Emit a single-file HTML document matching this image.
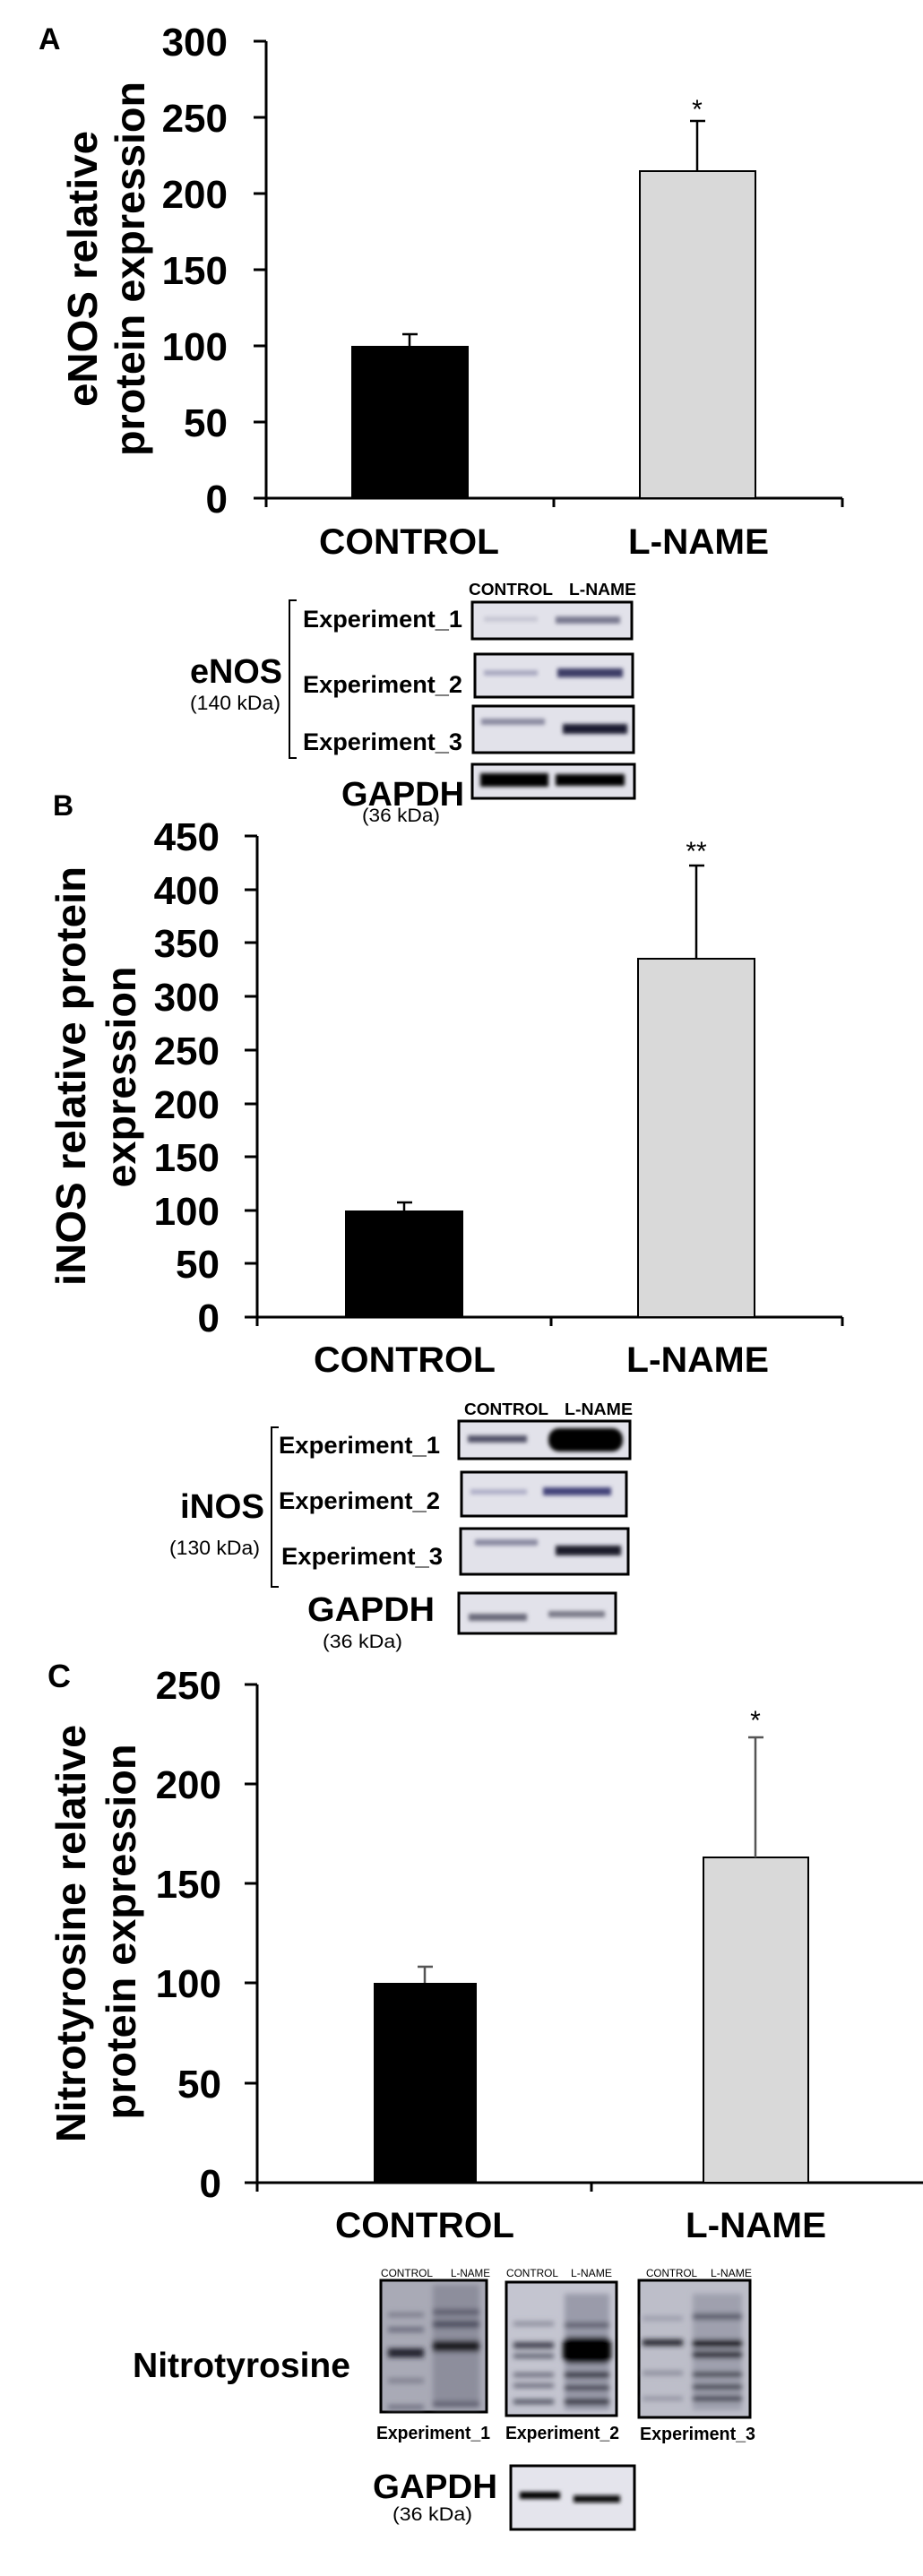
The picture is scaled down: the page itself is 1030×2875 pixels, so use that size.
<!DOCTYPE html>
<html><head><meta charset="utf-8"><style>
html,body{margin:0;padding:0;background:#fff;}
svg{display:block;}
text{font-family:"Liberation Sans",Arial,sans-serif;fill:#000;}
.b{font-weight:bold;}
</style></head><body>
<svg width="1030" height="2875" viewBox="0 0 1030 2875" xmlns="http://www.w3.org/2000/svg">
<defs>
<filter id="bl" x="-20%" y="-100%" width="140%" height="300%"><feGaussianBlur stdDeviation="2"/></filter>
<filter id="bl3" x="-20%" y="-100%" width="140%" height="300%"><feGaussianBlur stdDeviation="3"/></filter>
</defs>

<!-- ================= PANEL A ================= -->
<text x="43" y="55" class="b" font-size="34">A</text>
<g stroke="#000" stroke-width="3" fill="none">
<line x1="297" y1="46" x2="297" y2="566"/>
<line x1="283" y1="556" x2="940" y2="556"/>
<line x1="618" y1="556" x2="618" y2="566"/>
<line x1="940" y1="556" x2="940" y2="566"/>
<line x1="283" y1="46" x2="297" y2="46"/>
<line x1="283" y1="131" x2="297" y2="131"/>
<line x1="283" y1="216" x2="297" y2="216"/>
<line x1="283" y1="301" x2="297" y2="301"/>
<line x1="283" y1="386" x2="297" y2="386"/>
<line x1="283" y1="471" x2="297" y2="471"/>
</g>
<g class="b" font-size="44" text-anchor="end">
<text x="254" y="62">300</text><text x="254" y="147">250</text><text x="254" y="232">200</text>
<text x="254" y="317">150</text><text x="254" y="402">100</text><text x="254" y="487">50</text><text x="254" y="572">0</text>
</g>
<rect x="392" y="386" width="131" height="170" fill="#000"/>
<rect x="714" y="191" width="129" height="365" fill="#d9d9d9" stroke="#000" stroke-width="2"/>
<g stroke="#000" stroke-width="2.5">
<line x1="457" y1="386" x2="457" y2="373"/><line x1="449" y1="373" x2="466" y2="373"/>
<line x1="778" y1="191" x2="778" y2="135"/><line x1="770" y1="135" x2="787" y2="135"/>
</g>
<text x="778" y="132" font-size="30" text-anchor="middle">*</text>
<text transform="translate(108,300) rotate(-90)" class="b" font-size="46" text-anchor="middle" textLength="308" lengthAdjust="spacingAndGlyphs">eNOS relative</text>
<text transform="translate(161,300) rotate(-90)" class="b" font-size="46" text-anchor="middle" textLength="418" lengthAdjust="spacingAndGlyphs">protein expression</text>
<text x="356" y="618" class="b" font-size="40" textLength="201" lengthAdjust="spacingAndGlyphs">CONTROL</text>
<text x="701" y="618" class="b" font-size="40" textLength="157" lengthAdjust="spacingAndGlyphs">L-NAME</text>

<!-- blot A -->
<text x="523" y="664" class="b" font-size="18" textLength="94" lengthAdjust="spacingAndGlyphs">CONTROL</text>
<text x="635" y="664" class="b" font-size="18" textLength="75" lengthAdjust="spacingAndGlyphs">L-NAME</text>
<g stroke="#000" stroke-width="3" fill="#e2e2ea">
<rect x="527" y="672" width="178" height="41"/>
<rect x="530" y="730" width="176" height="48"/>
<rect x="528" y="788" width="179" height="52"/>
<rect x="527" y="853" width="181" height="38"/>
</g>
<g filter="url(#bl)">
<rect x="540" y="688" width="60" height="6" fill="#c8c8d4"/>
<rect x="620" y="688" width="72" height="8" fill="#7a7a90"/>
<rect x="540" y="748" width="60" height="6" fill="#a8a8c0"/>
<rect x="622" y="746" width="73" height="10" fill="#3e3e66"/>
<rect x="537" y="802" width="71" height="7" fill="#8a8aa0"/>
<rect x="628" y="808" width="72" height="11" fill="#1e1e30"/>
<rect x="536" y="863" width="76" height="15" fill="#000"/>
<rect x="620" y="864" width="77" height="13" fill="#000"/>
</g>
<g stroke="#000" stroke-width="2" fill="none"><polyline points="331,670 323,670 323,846 331,846"/></g>
<text x="338" y="700" class="b" font-size="27" textLength="178" lengthAdjust="spacingAndGlyphs">Experiment_1</text>
<text x="338" y="773" class="b" font-size="27" textLength="178" lengthAdjust="spacingAndGlyphs">Experiment_2</text>
<text x="338" y="837" class="b" font-size="27" textLength="178" lengthAdjust="spacingAndGlyphs">Experiment_3</text>
<text x="212" y="762" class="b" font-size="38" textLength="103" lengthAdjust="spacingAndGlyphs">eNOS</text>
<text x="212" y="792" font-size="22" textLength="101" lengthAdjust="spacingAndGlyphs">(140 kDa)</text>
<text x="381" y="899" class="b" font-size="38" textLength="137" lengthAdjust="spacingAndGlyphs">GAPDH</text>
<text x="404" y="917" font-size="21" textLength="87" lengthAdjust="spacingAndGlyphs">(36 kDa)</text>

<!-- ================= PANEL B ================= -->
<text x="59" y="910" class="b" font-size="32">B</text>
<g stroke="#000" stroke-width="3" fill="none">
<line x1="287" y1="933" x2="287" y2="1480"/>
<line x1="273" y1="1470" x2="940" y2="1470"/>
<line x1="615" y1="1470" x2="615" y2="1480"/>
<line x1="940" y1="1470" x2="940" y2="1480"/>
<line x1="273" y1="933" x2="287" y2="933"/>
<line x1="273" y1="993" x2="287" y2="993"/>
<line x1="273" y1="1052" x2="287" y2="1052"/>
<line x1="273" y1="1112" x2="287" y2="1112"/>
<line x1="273" y1="1172" x2="287" y2="1172"/>
<line x1="273" y1="1232" x2="287" y2="1232"/>
<line x1="273" y1="1291" x2="287" y2="1291"/>
<line x1="273" y1="1351" x2="287" y2="1351"/>
<line x1="273" y1="1410" x2="287" y2="1410"/>
</g>
<g class="b" font-size="44" text-anchor="end">
<text x="245" y="949">450</text><text x="245" y="1009">400</text><text x="245" y="1068">350</text>
<text x="245" y="1128">300</text><text x="245" y="1188">250</text><text x="245" y="1248">200</text>
<text x="245" y="1307">150</text><text x="245" y="1367">100</text><text x="245" y="1426">50</text><text x="245" y="1486">0</text>
</g>
<rect x="385" y="1351" width="132" height="119" fill="#000"/>
<rect x="712" y="1070" width="130" height="400" fill="#d9d9d9" stroke="#000" stroke-width="2"/>
<g stroke="#000" stroke-width="2.5">
<line x1="451" y1="1351" x2="451" y2="1342"/><line x1="443" y1="1342" x2="460" y2="1342"/>
<line x1="777" y1="1070" x2="777" y2="966"/><line x1="769" y1="966" x2="786" y2="966"/>
</g>
<text x="777" y="960" font-size="30" text-anchor="middle">**</text>
<text transform="translate(95,1201) rotate(-90)" class="b" font-size="46" text-anchor="middle" textLength="468" lengthAdjust="spacingAndGlyphs">iNOS relative protein</text>
<text transform="translate(151,1202) rotate(-90)" class="b" font-size="46" text-anchor="middle" textLength="247" lengthAdjust="spacingAndGlyphs">expression</text>
<text x="350" y="1531" class="b" font-size="40" textLength="203" lengthAdjust="spacingAndGlyphs">CONTROL</text>
<text x="699" y="1531" class="b" font-size="40" textLength="159" lengthAdjust="spacingAndGlyphs">L-NAME</text>

<!-- blot B -->
<text x="518" y="1579" class="b" font-size="18" textLength="94" lengthAdjust="spacingAndGlyphs">CONTROL</text>
<text x="630" y="1579" class="b" font-size="18" textLength="76" lengthAdjust="spacingAndGlyphs">L-NAME</text>
<g stroke="#000" stroke-width="3" fill="#e2e2ea">
<rect x="512" y="1586" width="191" height="42"/>
<rect x="515" y="1643" width="184" height="49"/>
<rect x="514" y="1706" width="187" height="51"/>
<rect x="512" y="1778" width="175" height="45"/>
</g>
<g filter="url(#bl)">
<rect x="522" y="1602" width="66" height="8" fill="#55556a"/>
<rect x="612" y="1594" width="83" height="26" rx="12" fill="#000"/>
<rect x="525" y="1662" width="63" height="6" fill="#b0b0c8"/>
<rect x="606" y="1660" width="76" height="9" fill="#44447a"/>
<rect x="530" y="1718" width="70" height="7" fill="#8a8aa2"/>
<rect x="620" y="1725" width="73" height="11" fill="#1a1a2a"/>
<rect x="523" y="1801" width="65" height="8" fill="#6a6a7a"/>
<rect x="612" y="1798" width="63" height="7" fill="#7a7a88"/>
</g>
<g stroke="#000" stroke-width="2" fill="none"><polyline points="311,1593 303,1593 303,1771 311,1771"/></g>
<text x="311" y="1622" class="b" font-size="27" textLength="180" lengthAdjust="spacingAndGlyphs">Experiment_1</text>
<text x="311" y="1684" class="b" font-size="27" textLength="180" lengthAdjust="spacingAndGlyphs">Experiment_2</text>
<text x="314" y="1746" class="b" font-size="27" textLength="180" lengthAdjust="spacingAndGlyphs">Experiment_3</text>
<text x="201" y="1694" class="b" font-size="38" textLength="94" lengthAdjust="spacingAndGlyphs">iNOS</text>
<text x="189" y="1735" font-size="22" textLength="101" lengthAdjust="spacingAndGlyphs">(130 kDa)</text>
<text x="343" y="1809" class="b" font-size="38" textLength="142" lengthAdjust="spacingAndGlyphs">GAPDH</text>
<text x="360" y="1839" font-size="21" textLength="89" lengthAdjust="spacingAndGlyphs">(36 kDa)</text>

<!-- ================= PANEL C ================= -->
<text x="53" y="1883" class="b" font-size="36">C</text>
<g stroke="#000" stroke-width="3" fill="none">
<line x1="287" y1="1880" x2="287" y2="2446"/>
<line x1="273" y1="2436" x2="1030" y2="2436"/>
<line x1="660" y1="2436" x2="660" y2="2446"/>
<line x1="273" y1="1880" x2="287" y2="1880"/>
<line x1="273" y1="1991" x2="287" y2="1991"/>
<line x1="273" y1="2102" x2="287" y2="2102"/>
<line x1="273" y1="2213" x2="287" y2="2213"/>
<line x1="273" y1="2325" x2="287" y2="2325"/>
</g>
<g class="b" font-size="44" text-anchor="end">
<text x="247" y="1896">250</text><text x="247" y="2007">200</text><text x="247" y="2118">150</text>
<text x="247" y="2229">100</text><text x="247" y="2341">50</text><text x="247" y="2452">0</text>
</g>
<rect x="417" y="2213" width="115" height="223" fill="#000"/>
<rect x="785" y="2073" width="117" height="363" fill="#d9d9d9" stroke="#000" stroke-width="2"/>
<g stroke="#555" stroke-width="2.5">
<line x1="474" y1="2213" x2="474" y2="2195"/><line x1="466" y1="2195" x2="483" y2="2195"/>
<line x1="843" y1="2073" x2="843" y2="1939"/><line x1="835" y1="1939" x2="852" y2="1939"/>
</g>
<text x="843" y="1930" font-size="30" text-anchor="middle">*</text>
<text transform="translate(95,2158) rotate(-90)" class="b" font-size="46" text-anchor="middle" textLength="466" lengthAdjust="spacingAndGlyphs">Nitrotyrosine relative</text>
<text transform="translate(151,2156) rotate(-90)" class="b" font-size="46" text-anchor="middle" textLength="419" lengthAdjust="spacingAndGlyphs">protein expression</text>
<text x="374" y="2497" class="b" font-size="40" textLength="200" lengthAdjust="spacingAndGlyphs">CONTROL</text>
<text x="765" y="2497" class="b" font-size="40" textLength="157" lengthAdjust="spacingAndGlyphs">L-NAME</text>

<!-- blots C -->
<g font-size="12">
<text x="425" y="2541" textLength="58" lengthAdjust="spacingAndGlyphs">CONTROL</text>
<text x="503" y="2541" textLength="44" lengthAdjust="spacingAndGlyphs">L-NAME</text>
<text x="565" y="2541" textLength="58" lengthAdjust="spacingAndGlyphs">CONTROL</text>
<text x="637" y="2541" textLength="46" lengthAdjust="spacingAndGlyphs">L-NAME</text>
<text x="721" y="2541" textLength="57" lengthAdjust="spacingAndGlyphs">CONTROL</text>
<text x="793" y="2541" textLength="46" lengthAdjust="spacingAndGlyphs">L-NAME</text>
</g>
<g stroke="#000" stroke-width="3">
<rect x="425" y="2545" width="118" height="147" fill="#a9aab6"/>
<rect x="565" y="2547" width="123" height="149" fill="#c4c5d0"/>
<rect x="713" y="2545" width="124" height="153" fill="#bdbec9"/>
</g>
<g filter="url(#bl3)">
<!-- box1 -->
<rect x="483" y="2550" width="52" height="138" fill="#8d8e9c"/>
<rect x="433" y="2581" width="40" height="5" fill="#7a7b8a"/>
<rect x="433" y="2597" width="40" height="6" fill="#6e6f80"/>
<rect x="433" y="2621" width="40" height="10" fill="#24242e"/>
<rect x="433" y="2654" width="40" height="6" fill="#828392"/>
<rect x="433" y="2684" width="40" height="5" fill="#6e6f80"/>
<rect x="483" y="2577" width="52" height="7" fill="#5e5f70"/>
<rect x="483" y="2590" width="52" height="8" fill="#4e4f60"/>
<rect x="483" y="2612" width="52" height="13" fill="#1a1a22"/>
<rect x="483" y="2680" width="52" height="6" fill="#5e5f70"/>
<!-- box2 -->
<rect x="630" y="2560" width="50" height="130" fill="#9a9baa"/>
<rect x="573" y="2591" width="45" height="5" fill="#8a8b9a"/>
<rect x="573" y="2614" width="45" height="7" fill="#40414e"/>
<rect x="573" y="2627" width="45" height="5" fill="#5a5b6a"/>
<rect x="573" y="2648" width="45" height="5" fill="#6a6b7a"/>
<rect x="573" y="2660" width="45" height="5" fill="#6a6b7a"/>
<rect x="573" y="2678" width="45" height="5" fill="#4a4b5a"/>
<rect x="630" y="2592" width="50" height="6" fill="#5a5b6a"/>
<rect x="628" y="2608" width="54" height="30" rx="8" fill="#000"/>
<rect x="630" y="2647" width="50" height="7" fill="#2e2f3a"/>
<rect x="630" y="2662" width="50" height="6" fill="#3a3b48"/>
<rect x="630" y="2677" width="50" height="7" fill="#2e2f3a"/>
<!-- box3 -->
<rect x="773" y="2560" width="55" height="130" fill="#9fa0ae"/>
<rect x="717" y="2585" width="45" height="5" fill="#9a9baa"/>
<rect x="717" y="2611" width="45" height="7" fill="#22232c"/>
<rect x="717" y="2646" width="45" height="5" fill="#8a8b9a"/>
<rect x="717" y="2675" width="45" height="4" fill="#8a8b9a"/>
<rect x="773" y="2582" width="55" height="7" fill="#5a5b6a"/>
<rect x="773" y="2611" width="55" height="9" fill="#0e0e14"/>
<rect x="773" y="2624" width="55" height="8" fill="#2a2b36"/>
<rect x="773" y="2647" width="55" height="6" fill="#3e3f4c"/>
<rect x="773" y="2661" width="55" height="6" fill="#3e3f4c"/>
<rect x="773" y="2674" width="55" height="6" fill="#3a3b48"/>
</g>
<g class="b" font-size="20">
<text x="420" y="2722" textLength="127" lengthAdjust="spacingAndGlyphs">Experiment_1</text>
<text x="564" y="2722" textLength="127" lengthAdjust="spacingAndGlyphs">Experiment_2</text>
<text x="714" y="2723" textLength="129" lengthAdjust="spacingAndGlyphs">Experiment_3</text>
</g>
<text x="148" y="2653" class="b" font-size="39" textLength="243" lengthAdjust="spacingAndGlyphs">Nitrotyrosine</text>
<rect x="570" y="2752" width="138" height="71" fill="#e4e4ec" stroke="#000" stroke-width="3"/>
<g filter="url(#bl)">
<rect x="580" y="2781" width="45" height="8" fill="#000"/>
<rect x="640" y="2785" width="52" height="8" fill="#0a0a10"/>
</g>
<text x="416" y="2788" class="b" font-size="38" textLength="139" lengthAdjust="spacingAndGlyphs">GAPDH</text>
<text x="438" y="2813" font-size="21" textLength="89" lengthAdjust="spacingAndGlyphs">(36 kDa)</text>
</svg>
</body></html>
